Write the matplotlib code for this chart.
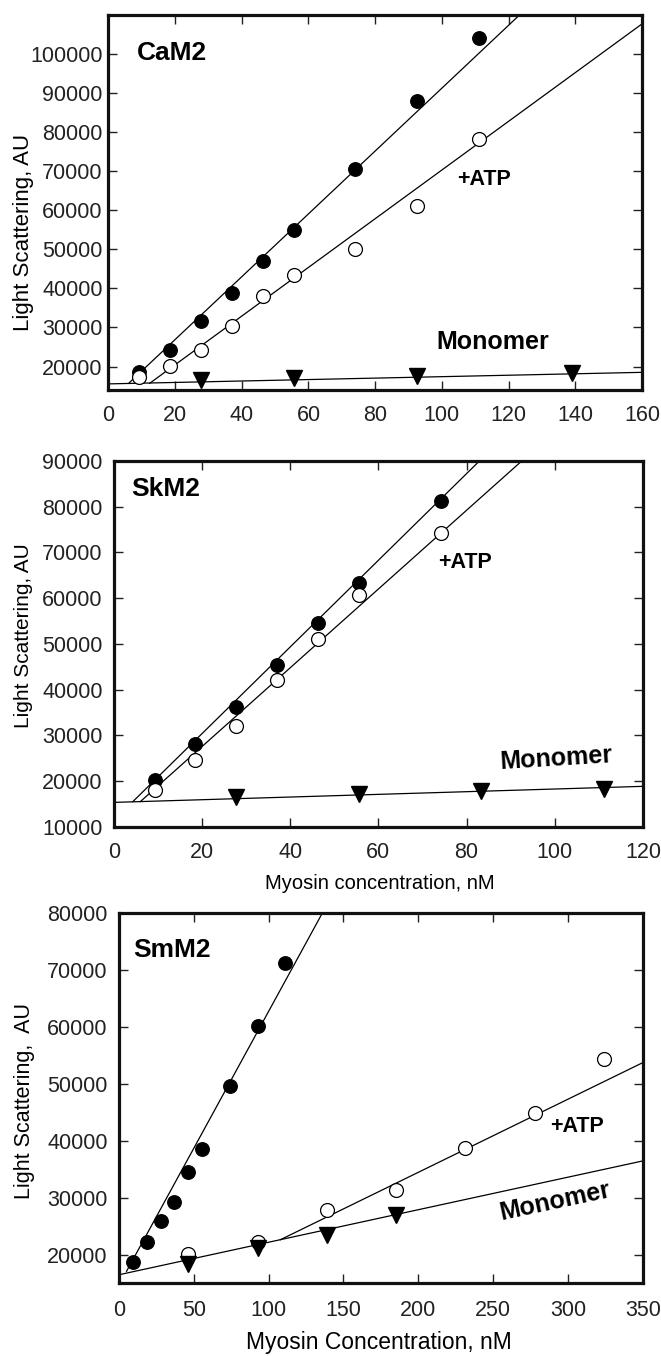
import matplotlib
matplotlib.use('Agg')
from matplotlib import pyplot as plt
import numpy as np

plt.rcParams['font.family'] = ['Liberation Sans', 'DejaVu Sans']

# --- CaM2 (top panel) ---
cam_x = [9.26, 18.5, 27.8, 37.0, 46.3, 55.6, 74.1, 92.6, 111.1]
cam_ctrl = [18500, 24300, 31700, 38900, 47000, 55000, 70500, 88000, 104000]
cam_atp = [17200, 20200, 24200, 30300, 38000, 43400, 50000, 61200, 78200]
cam_mono_x = [27.8, 55.6, 92.6, 138.9]
cam_mono = [16500, 17000, 17700, 18300]
# fitted lines: slope, intercept, first x
cam_fit_ctrl = (805, 10790, 6.1)
cam_fit_atp = (623.6, 7970, 12.4)
cam_fit_mono = (18.5, 15560, 0)

# --- SkM2 (middle panel) ---
sk_x = [9.26, 18.5, 27.8, 37.0, 46.3, 55.6, 74.1]
sk_ctrl = [20300, 28000, 36200, 45300, 54500, 63400, 81300]
sk_atp = [18100, 24700, 32000, 42000, 51000, 60700, 74200]
sk_mono_x = [27.8, 55.6, 83.3, 111.1]
sk_mono = [16500, 17100, 17900, 18300]
sk_fit_ctrl = (948, 11410, 4.3)
sk_fit_atp = (861.4, 10320, 6.0)
sk_fit_mono = (29.25, 15330, 0)

# --- SmM2 (bottom panel) ---
sm_x = [9.26, 18.5, 27.8, 37.0, 46.3, 55.6, 74.1, 92.6, 111.1]
sm_ctrl = [18800, 22300, 26000, 29300, 34600, 38600, 49600, 60100, 71200]
sm_atp_x = [46.3, 92.6, 138.9, 185.2, 231.5, 277.8, 324.1]
sm_atp = [20200, 22300, 27800, 31400, 38700, 44900, 54400]
sm_mono_x = [46.3, 92.6, 138.9, 185.2]
sm_mono = [18400, 21200, 23500, 26900]
sm_fit_ctrl = (480.4, 14660, 5.1)
sm_fit_atp = (128.3, 8810, 107.8)
sm_fit_mono = (57.06, 16500, 0)


def fit_line(ax, fit, xmax):
    slope, icpt, x0 = fit
    xs = np.array([x0, xmax])
    ax.plot(xs, slope * xs + icpt, color='black', lw=0.9, zorder=2)


def draw_panel(ax, x, ctrl, atp_x, atp, mono_x, mono, fits, xlim, ylim,
               xticks, yticks, ylab_pad, xlab_pad):
    for f in fits:
        fit_line(ax, f, xlim[1])
    ax.plot(x, ctrl, 'o', ms=9.7, color='black', zorder=3)
    ax.plot(atp_x, atp, 'o', ms=10, mfc='white', mec='black', mew=0.9, zorder=4)
    ax.plot(mono_x, mono, 'v', ms=11, color='black', zorder=5)
    ax.set_xlim(*xlim)
    ax.set_ylim(*ylim)
    ax.set_xticks(xticks)
    ax.set_xticklabels([str(v) for v in xticks])
    ax.set_yticks(yticks)
    ax.set_yticklabels([str(v) for v in yticks])
    ax.tick_params(direction='in', top=True, right=True, length=6.5, width=1,
                   labelsize=15.5, colors='#222222')
    ax.tick_params(axis='y', pad=ylab_pad)
    ax.tick_params(axis='x', pad=xlab_pad)
    for s in ax.spines.values():
        s.set_linewidth(2.3)
        s.set_color('#111111')


fig = plt.figure(figsize=(6.61, 13.56), dpi=100)

ax1 = fig.add_axes([0.1638, 0.7124, 0.8076, 0.2765])
draw_panel(ax1, cam_x, cam_ctrl, cam_x, cam_atp, cam_mono_x, cam_mono,
           [cam_fit_ctrl, cam_fit_atp, cam_fit_mono], (0, 160), (14000, 110000),
           list(range(0, 161, 20)), list(range(20000, 100001, 10000)), 4, 11)
ax1.set_ylabel('Light Scattering, AU', fontsize=16, ha='center', va='center')
ax1.yaxis.set_label_coords(-0.158, 0.419)
ax1.text(0.054, 0.899, 'CaM2', transform=ax1.transAxes, fontsize=19,
         fontweight='bold', ha='left', va='center')
ax1.text(0.654, 0.562, '+ATP', transform=ax1.transAxes, fontsize=15.5,
         fontweight='bold', ha='left', va='center')
ax1.text(0.614, 0.129, 'Monomer', transform=ax1.transAxes, fontsize=18,
         fontweight='bold', ha='left', va='center')

ax2 = fig.add_axes([0.1722, 0.3903, 0.8005, 0.2697])
draw_panel(ax2, sk_x, sk_ctrl, sk_x, sk_atp, sk_mono_x, sk_mono,
           [sk_fit_ctrl, sk_fit_atp, sk_fit_mono], (0, 120), (10000, 90000),
           list(range(0, 121, 20)), list(range(10000, 90001, 10000)), 8, 11)
ax2.set_ylabel('Light Scattering, AU', fontsize=15, ha='center', va='center')
ax2.yaxis.set_label_coords(-0.1716, 0.523)
ax2.set_xlabel('Myosin concentration, nM', fontsize=14.5, ha='center', va='center')
ax2.xaxis.set_label_coords(0.502, -0.154)
ax2.text(0.0335, 0.9226, 'SkM2', transform=ax2.transAxes, fontsize=19,
         fontweight='bold', ha='left', va='center')
ax2.text(0.6135, 0.722, '+ATP', transform=ax2.transAxes, fontsize=15.5,
         fontweight='bold', ha='left', va='center')
ax2.text(0.836, 0.187, 'Monomer', transform=ax2.transAxes, fontsize=18,
         fontweight='bold', ha='center', va='center', rotation=3.5)

ax3 = fig.add_axes([0.1799, 0.0536, 0.7927, 0.2733])
draw_panel(ax3, sm_x, sm_ctrl, sm_atp_x, sm_atp, sm_mono_x, sm_mono,
           [sm_fit_ctrl, sm_fit_atp, sm_fit_mono], (0, 350), (15000, 80000),
           list(range(0, 351, 50)), list(range(20000, 80001, 10000)), 8, 12)
ax3.set_ylabel('Light Scattering,  AU', fontsize=15.5, ha='center', va='center')
ax3.yaxis.set_label_coords(-0.181, 0.492)
ax3.set_xlabel('Myosin Concentration, nM', fontsize=16.5, ha='center', va='center')
ax3.xaxis.set_label_coords(0.497, -0.161)
ax3.text(0.0265, 0.899, 'SmM2', transform=ax3.transAxes, fontsize=19,
         fontweight='bold', ha='left', va='center')
ax3.text(0.823, 0.4245, '+ATP', transform=ax3.transAxes, fontsize=15.5,
         fontweight='bold', ha='left', va='center')
ax3.text(0.833, 0.22, 'Monomer', transform=ax3.transAxes, fontsize=18,
         fontweight='bold', ha='center', va='center', rotation=12)

fig.savefig('out.png', dpi=100)
